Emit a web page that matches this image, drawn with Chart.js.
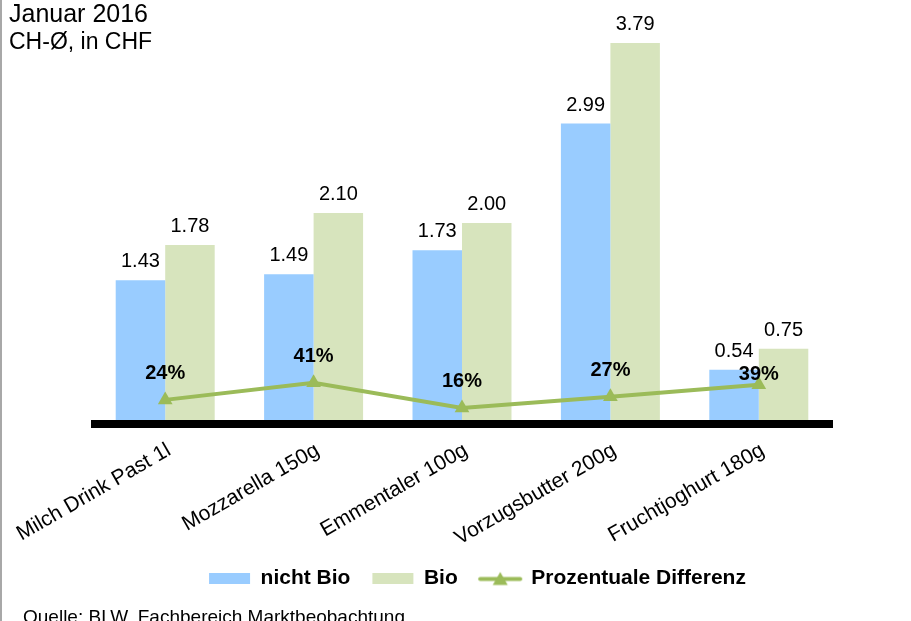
<!DOCTYPE html>
<html>
<head>
<meta charset="utf-8">
<script src="https://cdn.jsdelivr.net/npm/chart.js@4.4.0/dist/chart.umd.min.js"></script>
<style>
  html, body { margin: 0; padding: 0; background: #fff; }
  #wrap { position: relative; width: 911px; height: 621px; overflow: hidden; font-family: "Liberation Sans", Arial, sans-serif; color: #000; }
  #edge { position: absolute; left: 0; top: 0; width: 2px; height: 621px; background: #a8a8a8; }
  #title1 { position: absolute; left: 9px; top: 1px; font-size: 25px; line-height: 25px; white-space: nowrap; }
  #title2 { position: absolute; left: 9px; top: 30px; font-size: 23px; line-height: 23px; white-space: nowrap; }
  #source { position: absolute; left: 23px; top: 607px; font-size: 19px; line-height: 19px; white-space: nowrap; }
  #chartBox { position: absolute; left: 0; top: 0; width: 911px; height: 621px; }
</style>
</head>
<body>
<div id="wrap">
  <div id="chartBox"><canvas id="priceChart"></canvas></div>
  <div id="edge"></div>
  <div id="title1">Januar 2016</div>
  <div id="title2">CH-Ø, in CHF</div>
  <div id="source">Quelle: BLW, Fachbereich Marktbeobachtung</div>
</div>
<script>
    const categories = ['Milch Drink Past 1l', 'Mozzarella 150g', 'Emmentaler 100g', 'Vorzugsbutter 200g', 'Fruchtjoghurt 180g'];
    const nichtBio = [1.43, 1.49, 1.73, 2.99, 0.54];
    const bio = [1.78, 2.10, 2.00, 3.79, 0.75];
    const differenz = [0.24, 0.41, 0.16, 0.27, 0.39];

    const blue = '#99CCFF';
    const green = '#D7E4BD';
    const lineGreen = '#9BBB59';
    const fontFamily = '"Liberation Sans", Arial, sans-serif';

    // little line + triangle icon for the legend
    function lineIcon() {
        const c = document.createElement('canvas');
        c.width = 46;
        c.height = 16;
        const g = c.getContext('2d');
        g.strokeStyle = lineGreen;
        g.fillStyle = lineGreen;
        g.lineWidth = 4;
        g.lineCap = 'round';
        g.beginPath();
        g.moveTo(3, 8.5);
        g.lineTo(43, 8.5);
        g.stroke();
        g.beginPath();
        g.moveTo(23, 1.5);
        g.lineTo(30.5, 14.5);
        g.lineTo(15.5, 14.5);
        g.closePath();
        g.fill();
        return c;
    }

    // value labels above bars and points
    const valueLabels = {
        id: 'valueLabels',
        afterDatasetsDraw(chart) {
            const ctx = chart.ctx;
            const barBase = chart.getDatasetMeta(0).data.map(el => el.y - 13);
            ctx.save();
            ctx.fillStyle = '#000';
            ctx.textAlign = 'center';
            ctx.textBaseline = 'alphabetic';
            chart.data.datasets.forEach((ds, i) => {
                const meta = chart.getDatasetMeta(i);
                meta.data.forEach((el, j) => {
                    const v = ds.data[j];
                    if (ds.type === 'line') {
                        // keep the % label clear of the bar value above it
                        let y = el.y - 21;
                        const minY = barBase[j] + 23;
                        if (y < minY) y = minY;
                        ctx.font = 'bold 20px ' + fontFamily;
                        ctx.fillText(Math.round(v * 100) + '%', el.x, y);
                    } else {
                        ctx.font = '20px ' + fontFamily;
                        ctx.fillText(v.toFixed(2), el.x, el.y - 13);
                    }
                });
            });
            ctx.restore();
        }
    };

    const ctx = document.getElementById('priceChart').getContext('2d');
    const priceChart = new Chart(ctx, {
        type: 'bar',
        data: {
            labels: categories,
            datasets: [{
                label: 'nicht Bio',
                data: nichtBio,
                backgroundColor: blue,
                borderWidth: 0,
                categoryPercentage: 0.667,
                barPercentage: 1
            }, {
                label: 'Bio',
                data: bio,
                backgroundColor: green,
                borderWidth: 0,
                categoryPercentage: 0.667,
                barPercentage: 1
            }, {
                type: 'line',
                label: 'Prozentuale Differenz',
                data: differenz,
                borderColor: lineGreen,
                backgroundColor: lineGreen,
                borderWidth: 4,
                pointStyle: 'triangle',
                pointRadius: 8.5,
                pointBorderWidth: 0,
                pointBackgroundColor: lineGreen,
                tension: 0,
                order: -1
            }]
        },
        options: {
            responsive: true,
            maintainAspectRatio: false,
            animation: false,
            layout: {
                padding: { left: 44, right: 0, top: 22, bottom: 22 }
            },
            plugins: {
                tooltip: { enabled: false },
                legend: {
                    position: 'bottom',
                    labels: {
                        usePointStyle: true,
                        pointStyleWidth: 41,
                        boxHeight: 11,
                        padding: 22,
                        color: '#000',
                        font: { family: fontFamily, size: 21, weight: 'bold' },
                        generateLabels(chart) {
                            return chart.data.datasets.map((ds, i) => ({
                                text: ds.label,
                                fillStyle: ds.backgroundColor,
                                strokeStyle: ds.backgroundColor,
                                lineWidth: 0,
                                pointStyle: ds.type === 'line' ? lineIcon() : 'rect',
                                hidden: false,
                                datasetIndex: i,
                                fontColor: '#000'
                            }));
                        }
                    }
                }
            },
            scales: {
                x: {
                    grid: { display: false },
                    border: { display: false },
                    ticks: {
                        color: '#000',
                        font: { family: fontFamily, size: 21 },
                        minRotation: 30,
                        maxRotation: 30,
                        labelOffset: 4,
                        padding: 6,
                        autoSkip: false
                    },
                    afterFit(scale) {
                        scale.height = 122;
                        scale.paddingLeft = 0;
                        scale.paddingRight = 0;
                    }
                },
                y: {
                    min: 0,
                    max: 4,
                    ticks: { display: false, stepSize: 1 },
                    // only the zero line is drawn: the thick black base line
                    grid: {
                        display: true,
                        drawTicks: false,
                        lineWidth: 8,
                        z: 1,
                        color: (c) => (c.tick && c.tick.value === 0 ? '#000' : 'rgba(0,0,0,0)')
                    },
                    border: { display: false },
                    afterFit(scale) {
                        scale.width = 47;
                    }
                },
                y2: {
                    position: 'right',
                    min: 0,
                    max: 4,
                    ticks: { display: false },
                    grid: { display: false },
                    border: { display: false },
                    afterFit(scale) {
                        scale.width = 78;
                    }
                }
            }
        },
        plugins: [valueLabels]
    });
</script>
</body>
</html>
